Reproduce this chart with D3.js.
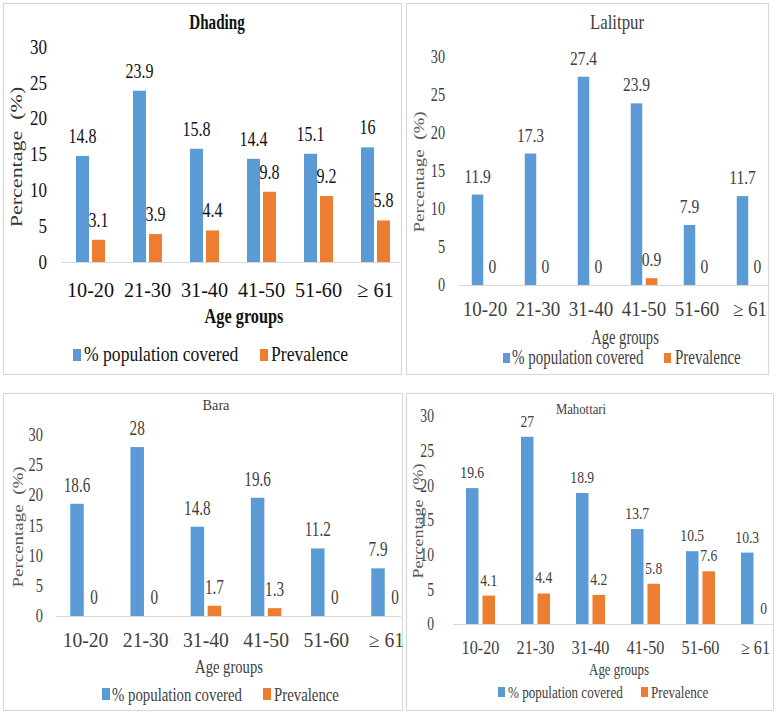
<!DOCTYPE html>
<html><head><meta charset="utf-8">
<script src="https://cdn.jsdelivr.net/npm/d3@7"></script>
<style>
body{margin:0;background:#fff}
svg{display:block}
</style>
</head><body>
<svg id="c" width="776" height="713"></svg>
<script>
// ---- data ----
const categories = ["10-20", "21-30", "31-40", "41-50", "51-60", "\u2265 61"];
const seriesNames = ["% population covered", "Prevalence"];
const yTicks = [0, 5, 10, 15, 20, 25, 30];
const panelTitles = ["Dhading", "Lalitpur", "Bara", "Mahottari"];
const xAxisTitle = "Age groups";
const yAxisTitle = "Percentage  (%)";

const dhadingCovered = [14.8, 23.9, 15.8, 14.4, 15.1, 16];
const dhadingPrev    = [3.1, 3.9, 4.4, 9.8, 9.2, 5.8];
const lalitpurCovered = [11.9, 17.3, 27.4, 23.9, 7.9, 11.7];
const lalitpurPrev    = [0, 0, 0, 0.9, 0, 0];
const baraCovered = [18.6, 28, 14.8, 19.6, 11.2, 7.9];
const baraPrev    = [0, 0, 1.7, 1.3, 0, 0];
const mahottariCovered = [19.6, 27, 18.9, 13.7, 10.5, 10.3];
const mahottariPrev    = [4.1, 4.4, 4.2, 5.8, 7.6, 0];

const colors = ["#5B9BD5", "#ED7D31"];
const FONT = "'Liberation Serif', Tinos, 'Times New Roman', 'DejaVu Serif', serif";

// ---- layout (per panel) ----
const panels = [
  { values: [dhadingCovered, dhadingPrev],
    box: [3, 3, 401, 374], y0: 262, yTop: 47, xr: [62, 404], axisEnd: 400, barW: 13, gap: 3, labelGap: 13,
    color: "#111", yColor: "#333",
    title: { x: 217, y: 29, size: 21, sx: 0.72, w: "bold" },
    tick: { x: 47, size: 20, sx: 0.85 },
    data: { size: 20, sx: 0.8 },
    cat: { y: 297, size: 22, sx: 0.92 },
    axis: { x: 244, y: 323, size: 22, sx: 0.74, w: "bold" },
    legend: { y: 361, size: 22, sx: 0.8, sq: [[73, 349], [260, 349]], sqW: 8, sqH: 12, tx: [84, 271] },
    ytitle: { x: 15.5, y: 157, size: 22, sx: 0.78 } },
  { values: [lalitpurCovered, lalitpurPrev],
    box: [406, 3, 768, 374], y0: 285, yTop: 57, xr: [458.5, 776.5], axisEnd: 768, barW: 11.5, gap: 3.5, labelGap: 12,
    color: "#404040", yColor: "#595959",
    title: { x: 617, y: 29, size: 21, sx: 0.8, w: "normal" },
    tick: { x: 445, size: 19, sx: 0.75 },
    data: { size: 19, sx: 0.82 },
    cat: { y: 316, size: 20, sx: 0.95 },
    axis: { x: 625, y: 344, size: 20, sx: 0.73, w: "normal" },
    legend: { y: 364, size: 20, sx: 0.75, sq: [[503, 353], [664, 353]], sqW: 7, sqH: 10, tx: [512, 675] },
    ytitle: { x: 419, y: 172, size: 19, sx: 0.8 } },
  { values: [baraCovered, baraPrev],
    box: [3, 393, 402, 710], y0: 616, yTop: 435, xr: [55.4, 416.6], axisEnd: 401, barW: 13.5, gap: 3.5, labelGap: 12,
    color: "#404040", yColor: "#595959",
    title: { x: 216, y: 410, size: 15, sx: 0.95, w: "normal" },
    tick: { x: 43, size: 18, sx: 0.8 },
    data: { size: 20, sx: 0.76 },
    cat: { y: 647, size: 20, sx: 0.98 },
    axis: { x: 229, y: 673, size: 19, sx: 0.77, w: "normal" },
    legend: { y: 701, size: 19, sx: 0.78, sq: [[102, 688], [263, 688]], sqW: 8, sqH: 12, tx: [112, 274] },
    ytitle: { x: 18, y: 527, size: 19, sx: 0.8 } },
  { values: [mahottariCovered, mahottariPrev],
    box: [406, 393, 773, 710], y0: 624, yTop: 416, xr: [453, 783], axisEnd: 773, barW: 12.5, gap: 4, labelGap: 10,
    color: "#404040", yColor: "#595959",
    title: { x: 581, y: 414, size: 15, sx: 0.85, w: "normal" },
    tick: { x: 434, size: 19, sx: 0.72 },
    data: { size: 16, sx: 0.85 },
    cat: { y: 654, size: 18, sx: 0.9 },
    axis: { x: 619, y: 675, size: 17, sx: 0.76, w: "normal" },
    legend: { y: 698, size: 17, sx: 0.77, sq: [[498, 687], [641, 687]], sqW: 7, sqH: 10, tx: [508, 651] },
    ytitle: { x: 418, y: 521, size: 18, sx: 0.8 } }
];

const svg = d3.select("#c");
svg.append("rect").attr("width", 776).attr("height", 713).attr("fill", "#fff");

function txt(g, x, y, s, size, sx, opts = {}) {
  return g.append("text")
    .attr("transform", `translate(${x},${y}) scale(${sx},1)` + (opts.rotate ? ` rotate(${opts.rotate})` : ""))
    .attr("text-anchor", opts.anchor || "middle")
    .attr("dominant-baseline", opts.baseline || "auto")
    .attr("font-family", FONT)
    .attr("font-size", size)
    .attr("font-weight", opts.w || "normal")
    .attr("fill", opts.fill || "#404040")
    .style("white-space", "pre")
    .text(s);
}

panels.forEach((p, pi) => {
  const g = svg.append("g");
  const [bx0, by0, bx1, by1] = p.box;
  g.append("rect").attr("x", bx0 + 0.5).attr("y", by0 + 0.5)
    .attr("width", bx1 - bx0).attr("height", by1 - by0)
    .attr("fill", "#fff").attr("stroke", "#d9d9d9").attr("stroke-width", 1.2);

  const y = d3.scaleLinear().domain([0, 30]).range([p.y0, p.yTop]);
  const step = (p.xr[1] - p.xr[0]) / categories.length;
  const groupW = 2 * p.barW + p.gap;
  const pad = 1 - groupW / step;
  const x = d3.scaleBand().domain(categories).range(p.xr).paddingInner(pad).paddingOuter(pad / 2);
  const xi = d3.scaleBand().domain(seriesNames).range([0, x.bandwidth()])
    .paddingInner(p.gap / (p.barW + p.gap)).paddingOuter(0);

  // axis line
  g.append("line").attr("x1", p.xr[0]).attr("x2", p.axisEnd)
    .attr("y1", p.y0 + 0.5).attr("y2", p.y0 + 0.5)
    .attr("stroke", "#d9d9d9").attr("stroke-width", 1.2);

  // y ticks
  yTicks.forEach(t => {
    txt(g, p.tick.x, y(t) + 0.34 * p.tick.size, String(t), p.tick.size, p.tick.sx,
      { anchor: "end", fill: p.color });
  });

  // bars + labels
  seriesNames.forEach((s, si) => {
    p.values[si].forEach((v, ci) => {
      const c = categories[ci];
      const bx = x(c) + xi(s);
      if (v > 0) {
        g.append("rect").attr("x", bx).attr("y", y(v))
          .attr("width", xi.bandwidth()).attr("height", y(0) - y(v))
          .attr("fill", colors[si]);
      }
      txt(g, bx + xi.bandwidth() / 2, y(v) - p.labelGap, String(v), p.data.size, p.data.sx,
        { fill: p.color });
    });
  });

  // category labels
  categories.forEach(c => {
    txt(g, x(c) + x.bandwidth() / 2, p.cat.y, c, p.cat.size, p.cat.sx, { fill: p.color });
  });

  // axis titles
  txt(g, p.axis.x, p.axis.y, xAxisTitle, p.axis.size, p.axis.sx, { fill: p.color, w: p.axis.w });
  txt(g, p.ytitle.x, p.ytitle.y, yAxisTitle, p.ytitle.size, p.ytitle.sx,
    { fill: p.yColor, rotate: -90, baseline: "central" });

  // legend
  seriesNames.forEach((s, si) => {
    g.append("rect").attr("x", p.legend.sq[si][0]).attr("y", p.legend.sq[si][1])
      .attr("width", p.legend.sqW).attr("height", p.legend.sqH).attr("fill", colors[si]);
    txt(g, p.legend.tx[si], p.legend.y, s, p.legend.size, p.legend.sx,
      { anchor: "start", fill: p.color });
  });

  // chart title
  txt(g, p.title.x, p.title.y, panelTitles[pi], p.title.size, p.title.sx,
    { fill: p.color, w: p.title.w });
});
</script>
</body></html>
